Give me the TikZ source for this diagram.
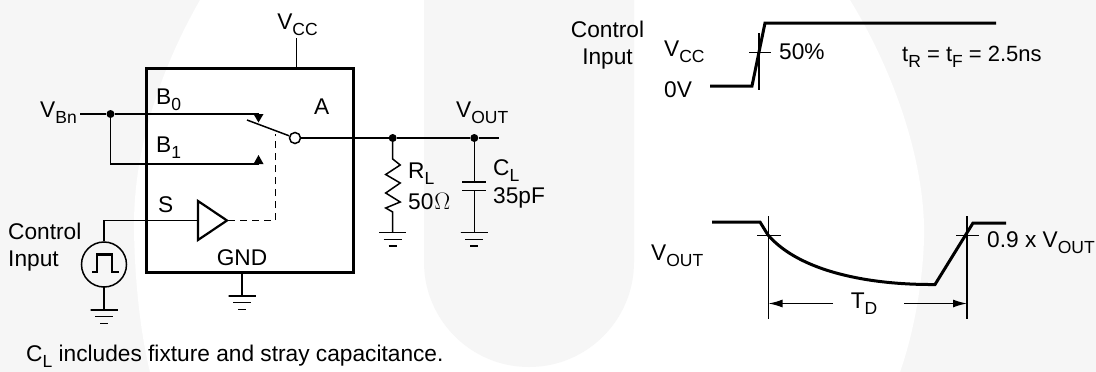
\documentclass[tikz,border=0pt]{standalone}
\usepackage{fontspec}
\setmainfont{Liberation Sans}
\usetikzlibrary{arrows.meta}
\usetikzlibrary{calc}
\definecolor{logogrey}{HTML}{F6F6F6}
\newcommand{\subs}[1]{\lower0.26em\hbox{\fontsize{17.5}{20}\selectfont #1}}
\newcommand{\gnd}[1]{%
	\draw [wire] (#1) -- ++(-13.5,0) -- ++(27,0);
	\draw [wire] ($(#1)+(-9,6.7)$) -- ++(18,0);
	\draw [wire] ($(#1)+(-4,13.4)$) -- ++(8,0);}
\tikzset{
	wire/.style={line width=1.5pt},
	heavy/.style={line width=3pt},
	ctrl/.style={line width=1.5pt, dash pattern=on 7pt off 5pt},
	dot/.style={circle, fill=black, inner sep=0pt, minimum size=8pt},
	lbl/.style={inner sep=0pt, anchor=west, font=\fontsize{22.7}{27}\selectfont},
	tip/.style={-{Latex[length=14pt,width=8pt]}, line width=1.4pt},
}
\begin{document}
\begin{tikzpicture}[x=1pt, y=-1pt]
\useasboundingbox (0,0) rectangle (1096,372);
% logo behind the figure
\fill[logogrey] (0,0) rectangle (1096,372);
\fill[white] (200,0) .. controls (160,70) and (133,150) .. (134,230) .. controls (135,290) and (142,340) .. (150,372)
	-- (900,372) .. controls (915,330) and (925,270) .. (924,225) .. controls (922,150) and (890,65) .. (850,0) -- cycle;
\fill[logogrey] (424,0) -- (424,262) arc [start angle=180, end angle=0, x radius=105, y radius=105] -- (634,0) -- cycle;

% switch box
\node [draw, heavy, minimum width=207pt, minimum height=204pt, inner sep=0pt] (box) at (249.5,170) {};
\node [lbl, anchor=center] (vcc) at (297.5,25) {V\subs{CC}};
\coordinate (vcctop) at (296.5,38);
\draw [wire] (vcctop) -- (vcctop |- box.north);

\node [lbl] (vbn) at (40,113) {V\subs{Bn}};
\node [dot] (split) at (110.5,114) {};
\coordinate (vbnend) at (80,114);
\coordinate (bzero) at (258.5,114);
\coordinate (bone) at (258.5,164);
\draw [wire] (vbnend) -- (split) -- (bzero);
\draw [wire] (split) |- (bone);
\fill (bzero) ++(-5,0) -- ++(10,0) -- ++(-5,8.5) -- cycle;
\fill (bone) ++(-5,0) -- ++(10,0) -- ++(-5,-9) -- cycle;
\node [lbl] (bz) at (156,100) {B\subs{0}};
\node [lbl] (bo) at (156,148) {B\subs{1}};
\node [lbl] (a) at (314,107) {A};
\node [lbl] (s) at (158,205) {S};
\node [lbl, anchor=center] (gnd) at (242,258) {GND};

% switch arm
\node [draw, wire, circle, fill=white, inner sep=0pt, minimum size=11pt] (pole) at (295,138) {};
\coordinate (armend) at (247,120);
\draw [wire] (armend) -- (pole);

% output side
\node [dot] (rtop) at (392.7,138) {};
\node [dot] (ctop) at (474.3,138) {};
\coordinate (outend) at (499,138);
\draw [wire] (pole) -- (rtop) -- (ctop) -- (outend);
\node [lbl] (vout) at (456,113) {V\subs{OUT}};
\coordinate (rgnd) at (392.7,232.7);
\coordinate (cgnd) at (474.3,232.7);
\draw [wire] (rtop) -- ++(0,21) -- ++(7.5,6) -- ++(-14.5,9.5) -- ++(14.5,8.5) -- ++(-14.5,10) -- ++(14.5,9) -- ++(-14.5,6) -- ++(7,4) -- (rgnd);
\gnd{rgnd}
\draw [wire] (ctop) -- ++(0,44) ++(-12,0) -- ++(24,0);
\draw [wire] (cgnd) -- ++(0,-42) ++(-12,0) -- ++(24,0);
\gnd{cgnd}
\node [lbl] (rl) at (408,174) {R\subs{L}};
\node [lbl] (rval) at (408,201) {50\kern1pt\scalebox{1.15}{$\Omega$}};
\node [lbl] (cl) at (493,171) {C\subs{L}};
\node [lbl] (cval) at (493,198) {35pF};

% driver
\draw [line width=2.2pt] (198,201) -- (227,220.5) -- (198,240) -- cycle;
\coordinate (drvin) at (198,220.5);
\coordinate (drvout) at (228,220.5);
\coordinate (armmid) at (275.5,134);
\draw [ctrl] (drvout) -| (armmid);
\node [draw, wire, circle, inner sep=0pt, minimum size=45pt] (src) at (104,264.5) {};
\draw [wire] (drvin) -| (src.north);
\draw [line width=2.4pt] (92,272) -- (97,272) -- (97,254.5) -- (112,254.5) -- (112,272) -- (119,272);
\coordinate (srcgnd) at (104,310);
\draw [wire] (src) ++(0,22.5) -- (srcgnd);
\gnd{srcgnd}
\coordinate (boxgnd) at (242,296);
\draw [wire] (box.south -| boxgnd) -- (boxgnd);
\gnd{boxgnd}
\node [lbl, align=left, anchor=north west, font=\fontsize{22.7}{27}\selectfont] (ctlleft) at (8,223) {Control\\Input};

\node [lbl] (note) at (26,356) {C\subs{L} includes fixture and stray capacitance.};

% control waveform
\node [lbl, anchor=center, align=center, font=\fontsize{22.7}{27}\selectfont] (ctlright) at (607.5,45) {Control\\Input};
\node [lbl] (vccr) at (664,52) {V\subs{CC}};
\node [lbl] (zero) at (664,90) {0V};
\draw [heavy] (710,86) -- (752,86) -- (765,23) -- (996,23);
\draw [wire] (759,33) -- (759,90);
\draw [wire] (749,52.5) -- (771,52.5);
\node [lbl] (half) at (779,52) {50\%};
\node [lbl, font=\fontsize{22}{26}\selectfont] (times) at (902,57) {t\subs{R} = t\subs{F} = 2.5ns};

% output waveform
\node [lbl] (voutr) at (651,256) {V\subs{OUT}};
\draw [heavy] (712,222) -- (760,222) -- (768,235) .. controls (800,272) and (870,285) .. (935,284.5) -- (973,223) -- (1006,223);
\draw [wire] (768.5,216) -- (768.5,319);
\draw [wire] (967,216) -- (967,319);
\draw [wire] (757,235.5) -- (781,235.5);
\draw [wire] (956,235.5) -- (979,235.5);
\node [lbl] (ninety) at (987,243) {0.9 x V\subs{OUT}};
\node [lbl, anchor=center] (td) at (864,304) {T\subs{D}};
\coordinate (tdleft) at (768.5,303.5);
\coordinate (tdright) at (967,303.5);
\draw [tip] (833,303.5) -- (tdleft);
\draw [tip] (904,303.5) -- (tdright);
\end{tikzpicture}
\end{document}
